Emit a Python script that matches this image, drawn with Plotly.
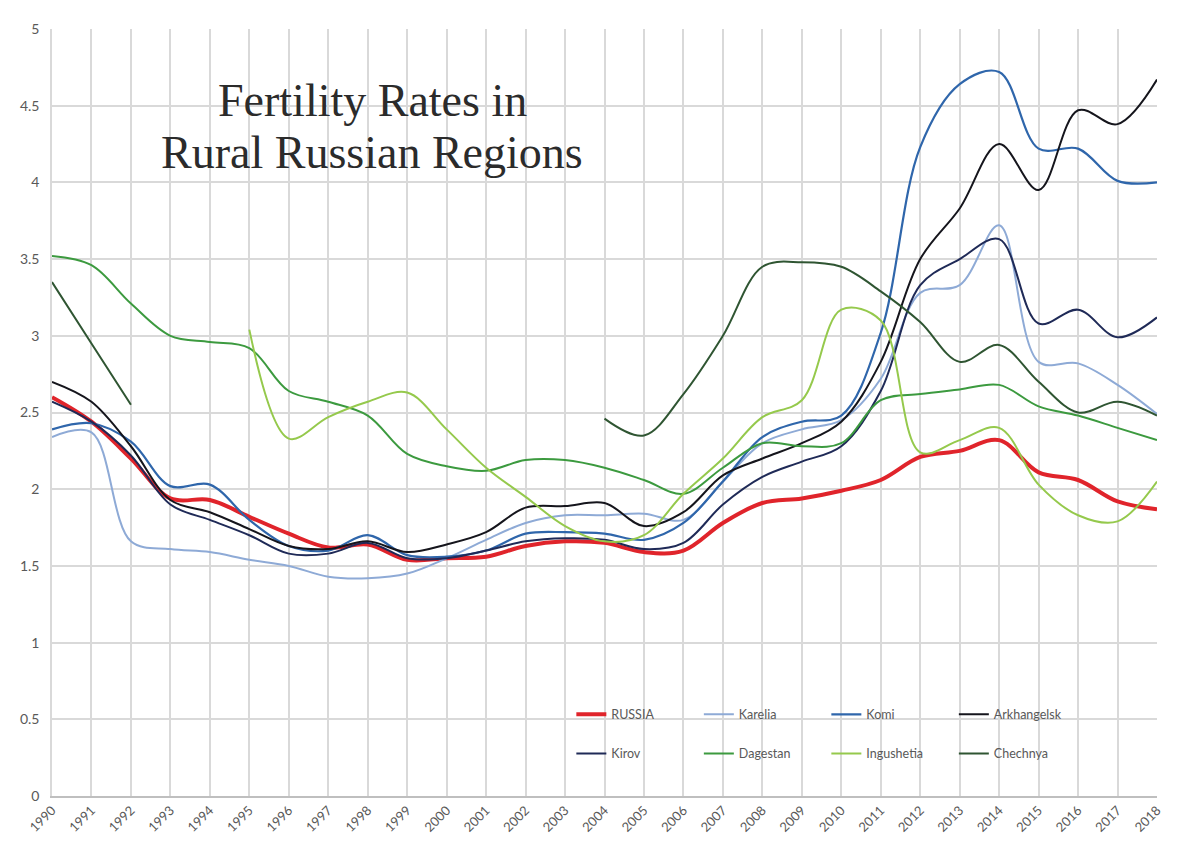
import plotly.graph_objects as go

years = list(range(1990, 2019))

russia = [2.60, 2.44, 2.20, 1.94, 1.93, 1.82, 1.71, 1.62, 1.64, 1.54, 1.55, 1.56, 1.63, 1.66, 1.65,
          1.59, 1.60, 1.78, 1.91, 1.94, 1.99, 2.06, 2.21, 2.25, 2.32, 2.11, 2.06, 1.92, 1.87]
karelia = [2.34, 2.37, 1.66, 1.61, 1.59, 1.54, 1.50, 1.43, 1.42, 1.45, 1.55, 1.67, 1.78, 1.83, 1.83,
           1.84, 1.80, 2.05, 2.30, 2.39, 2.45, 2.72, 3.28, 3.33, 3.72, 2.83, 2.82, 2.68, 2.49]
komi = [2.39, 2.43, 2.31, 2.02, 2.03, 1.80, 1.63, 1.60, 1.70, 1.57, 1.56, 1.60, 1.71, 1.72, 1.71,
        1.67, 1.78, 2.05, 2.34, 2.44, 2.48, 3.02, 4.23, 4.64, 4.72, 4.22, 4.22, 4.01, 4.00]
arkhangelsk = [2.70, 2.57, 2.28, 1.93, 1.85, 1.74, 1.63, 1.61, 1.66, 1.59, 1.64, 1.72, 1.88, 1.89, 1.91,
               1.76, 1.85, 2.09, 2.20, 2.30, 2.44, 2.83, 3.50, 3.83, 4.25, 3.95, 4.47, 4.38, 4.67]
kirov = [2.57, 2.44, 2.22, 1.90, 1.80, 1.70, 1.58, 1.58, 1.65, 1.55, 1.55, 1.60, 1.66, 1.68, 1.67,
         1.61, 1.65, 1.90, 2.08, 2.18, 2.28, 2.64, 3.33, 3.50, 3.63, 3.08, 3.17, 2.99, 3.12]
dagestan = [3.52, 3.46, 3.21, 3.00, 2.96, 2.92, 2.64, 2.57, 2.48, 2.23, 2.15, 2.12, 2.19, 2.19, 2.14,
            2.06, 1.97, 2.14, 2.30, 2.28, 2.30, 2.58, 2.62, 2.65, 2.68, 2.54, 2.48, 2.40, 2.32]
ingushetia = [None, None, None, None, None, 3.04, 2.33, 2.47, 2.57, 2.63, 2.39, 2.14, 1.95, 1.76, 1.66,
              1.70, 1.97, 2.20, 2.47, 2.58, 3.17, 3.10, 2.24, 2.32, 2.40, 2.03, 1.83, 1.79, 2.05]
chechnya = [3.35, 2.95, 2.55, None, None, None, None, None, None, None, None, None, None, None, 2.46,
            2.35, 2.62, 3.00, 3.45, 3.48, 3.45, 3.29, 3.09, 2.83, 2.94, 2.70, 2.50, 2.57, 2.48]

series = [
    ("RUSSIA", russia, "#e0242b", 4.0, "legend"),
    ("Karelia", karelia, "#8eaad6", 2.0, "legend"),
    ("Komi", komi, "#2f66ab", 2.2, "legend"),
    ("Arkhangelsk", arkhangelsk, "#15151c", 2.0, "legend"),
    ("Kirov", kirov, "#1f2a57", 2.0, "legend2"),
    ("Dagestan", dagestan, "#3c9a3f", 2.0, "legend2"),
    ("Ingushetia", ingushetia, "#95c94c", 2.0, "legend2"),
    ("Chechnya", chechnya, "#2f5532", 2.0, "legend2"),
]

fig = go.Figure()
for name, vals, color, width, lg in series:
    fig.add_trace(go.Scatter(
        x=years, y=vals, name=name, mode="lines",
        line=dict(color=color, width=width, shape="spline", smoothing=1.0),
        connectgaps=False, legend=lg,
    ))

legend_font = dict(family="Lato, Liberation Sans, sans-serif", size=12.5, color="#595959")
tick_font = dict(family="Lato, Liberation Sans, sans-serif", size=13, color="#595959")
legend_common = dict(
    orientation="h", xanchor="left", yanchor="middle",
    entrywidth=82.5, entrywidthmode="pixels",
    font=legend_font, bgcolor="rgba(0,0,0,0)", borderwidth=0,
    itemwidth=30, tracegroupgap=0,
)

title_font = dict(family="Liberation Serif, Times New Roman, serif", size=46, color="#2b2b2b")

fig.update_layout(
    width=1184, height=847,
    margin=dict(l=43, r=35, t=13, b=59),
    paper_bgcolor="white", plot_bgcolor="white",
    legend=dict(x=0.470, y=0.106, **legend_common),
    legend2=dict(x=0.470, y=0.055, **legend_common),
    xaxis=dict(
        range=[1990, 2018], tickmode="array", tickvals=years,
        ticktext=[str(y) for y in years], tickangle=-45,
        showgrid=True, gridcolor="#d9d9d9", gridwidth=1.5,
        showline=True, linecolor="#bfbfbf", linewidth=1.5, mirror=False,
        ticks="", tickfont=tick_font, zeroline=False,
    ),
    yaxis=dict(
        range=[0, 5], dtick=0.5, tick0=0,
        showgrid=True, gridcolor="#d9d9d9", gridwidth=1.5,
        showline=True, linecolor="#d9d9d9", linewidth=1.5,
        ticks="", tickfont=dict(family="Lato, Liberation Sans, sans-serif", size=14, color="#595959"),
        ticklabelstandoff=8, zeroline=False,
    ),
    annotations=[
        dict(text="Fertility Rates in", x=0.29, y=0.907, xref="paper", yref="paper",
             xanchor="center", yanchor="middle", showarrow=False, font=title_font),
        dict(text="Rural Russian Regions", x=0.29, y=0.839, xref="paper", yref="paper",
             xanchor="center", yanchor="middle", showarrow=False, font=title_font),
    ],
)

fig.write_html("out.html")
